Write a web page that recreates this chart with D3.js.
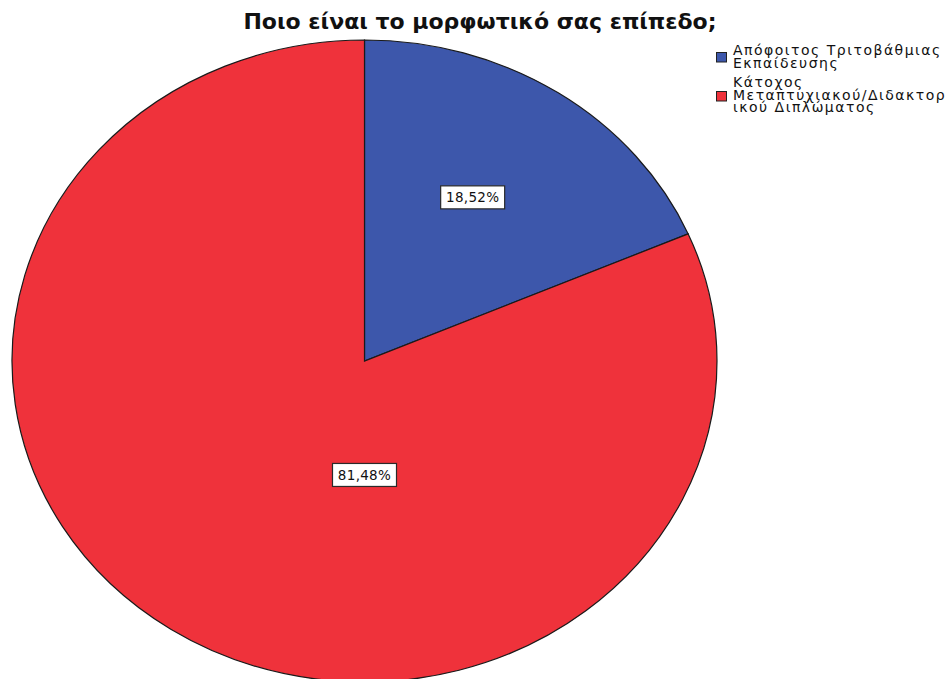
<!DOCTYPE html>
<html>
<head>
<meta charset="utf-8">
<script src="https://cdn.jsdelivr.net/npm/d3@7"></script>
<style>
  html, body { margin: 0; padding: 0; background: #ffffff; overflow: hidden; }
  svg { display: block; }
</style>
</head>
<body>
<svg id="chart" width="947" height="679"></svg>
<script>
// Education level responses (percent)
const categories = [
  "Απόφοιτος Τριτοβάθμιας Εκπαίδευσης",
  "Κάτοχος Μεταπτυχιακού/Διδακτορικού Διπλώματος"
];
const values = [18.52, 81.48];
const valueLabels = ["18,52%", "81,48%"];
const legendLines = [
  ["Απόφοιτος Τριτοβάθμιας", "Εκπαίδευσης"],
  ["Κάτοχος", "Μεταπτυχιακού/Διδακτορ", "ικού Διπλώματος"]
];
const colors = ["#3D57AB", "#EF323B"];
const title = "Ποιο είναι το μορφωτικό σας επίπεδο;";

const svg = d3.select("#chart");

// Pie geometry: a circle squashed vertically into an ellipse
const cx = 364.5, cy = 361, rx = 352.5, ry = 321;

const pie = d3.pie().sort(null).value(d => d)(values);
const arc = d3.arc().innerRadius(0).outerRadius(rx);

const g = svg.append("g")
  .attr("transform", `translate(${cx},${cy}) scale(1,${ry / rx})`);

g.selectAll("path.slice")
  .data(pie)
  .join("path")
  .attr("class", "slice")
  .attr("d", arc)
  .attr("fill", (d, i) => colors[i])
  .attr("stroke", "#1a1a1a")
  .attr("stroke-width", 1.2)
  .attr("vector-effect", "non-scaling-stroke");

// Value labels in white boxes
const labelG = svg.append("g");
pie.forEach((d, i) => {
  const span = d.endAngle - d.startAngle;
  let a, f;
  if (span < Math.PI) { a = (d.startAngle + d.endAngle) / 2 - 0.04; f = 0.595; }
  else { a = Math.PI; f = 0.355; }
  const x = cx + rx * f * Math.sin(a);
  const y = cy - ry * f * Math.cos(a);
  const lg = labelG.append("g").attr("transform", `translate(${x},${y})`);
  const bw = 64, bh = 23;
  lg.append("rect")
    .attr("x", -bw / 2).attr("y", -bh / 2)
    .attr("width", bw).attr("height", bh)
    .attr("fill", "#ffffff")
    .attr("stroke", "#2a2a2a")
    .attr("stroke-width", 1.2);
  lg.append("text")
    .attr("text-anchor", "middle")
    .attr("dy", "0.36em")
    .attr("font-family", "DejaVu Sans")
    .attr("font-size", 13.5)
    .attr("letter-spacing", "0.3px")
    .attr("fill", "#111")
    .text(valueLabels[i]);
});

// Title
svg.append("text")
  .attr("x", 480).attr("y", 29)
  .attr("text-anchor", "middle")
  .attr("font-family", "DejaVu Sans")
  .attr("font-weight", "bold")
  .attr("font-size", 22)
  .attr("fill", "#111")
  .text(title);

// Legend
const legend = svg.append("g");
const legendItems = [
  { y0: 55, swatchY: 52 },
  { y0: 87, swatchY: 91 }
];
legendLines.forEach((lines, i) => {
  legend.append("rect")
    .attr("x", 716.5).attr("y", legendItems[i].swatchY + 0.5)
    .attr("width", 10).attr("height", 9.5)
    .attr("fill", colors[i])
    .attr("stroke", "#222")
    .attr("stroke-width", 1);
  lines.forEach((t, j) => {
    legend.append("text")
      .attr("x", 733)
      .attr("y", legendItems[i].y0 + j * 12.6)
      .attr("font-family", "DejaVu Sans")
      .attr("font-size", 14)
      .attr("letter-spacing", "1.5px")
      .attr("fill", "#111")
      .text(t);
  });
});
</script>
</body>
</html>
